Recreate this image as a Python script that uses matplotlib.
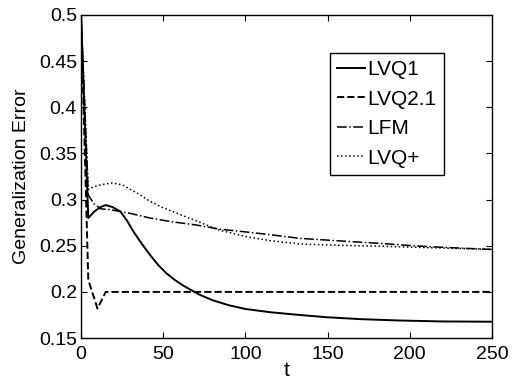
import matplotlib
matplotlib.use('Agg')
import matplotlib.pyplot as plt

plt.rcParams['font.family'] = ['Liberation Sans', 'DejaVu Sans']

# LVQ1 (solid)
t_lvq1 = [0, 4.4, 8, 12, 15, 19, 24, 28, 32, 37, 42, 47, 52, 57, 62, 67, 72, 80, 90, 100, 115, 133, 150, 170, 194, 220, 250]
e_lvq1 = [0.5, 0.280, 0.287, 0.292, 0.294, 0.292, 0.287, 0.277, 0.265, 0.252, 0.240, 0.229, 0.220, 0.213, 0.207, 0.202, 0.197, 0.191, 0.1855, 0.1815, 0.178, 0.175, 0.1725, 0.1705, 0.169, 0.168, 0.1677]

# LVQ2.1 (dashed)
t_lvq21 = [0, 4.4, 10, 15, 250]
e_lvq21 = [0.5, 0.213, 0.182, 0.2, 0.2]

# LFM (dash-dot)
t_lfm = [0, 4.4, 8, 12, 18, 30, 42, 55, 70, 84, 100, 115, 133, 155, 182, 206, 230, 250]
e_lfm = [0.5, 0.305, 0.295, 0.290, 0.289, 0.285, 0.280, 0.276, 0.2725, 0.268, 0.265, 0.262, 0.258, 0.2555, 0.2525, 0.2495, 0.2475, 0.246]

# LVQ+ (dotted)
t_lvqp = [0, 4.4, 8, 12, 19, 25, 36, 42, 50, 60, 70, 84, 100, 115, 133, 155, 182, 210, 250]
e_lvqp = [0.5, 0.311, 0.314, 0.316, 0.318, 0.316, 0.305, 0.298, 0.291, 0.284, 0.277, 0.267, 0.260, 0.2555, 0.252, 0.2505, 0.2495, 0.248, 0.246]

fig = plt.figure(figsize=(5.13, 3.82), dpi=100)
ax = fig.add_axes([0.158, 0.115, 0.801, 0.846])

ax.plot(t_lvq1, e_lvq1, 'k-', lw=1.4, label='LVQ1')
ax.plot(t_lvq21, e_lvq21, 'k--', lw=1.4, label='LVQ2.1')
ax.plot(t_lfm, e_lfm, 'k-.', lw=1.1, label='LFM')
ax.plot(t_lvqp, e_lvqp, 'k:', lw=1.1, label='LVQ+')

ax.set_xlim(0, 250)
ax.set_ylim(0.15, 0.5)
ax.set_xticks([0, 50, 100, 150, 200, 250])
ax.set_yticks([0.15, 0.2, 0.25, 0.3, 0.35, 0.4, 0.45, 0.5])
ax.set_yticklabels(['0.15', '0.2', '0.25', '0.3', '0.35', '0.4', '0.45', '0.5'])
ax.tick_params(direction='in', top=True, right=True, labelsize=14, length=4)
ax.tick_params(axis='x', pad=6)
ax.tick_params(axis='y', pad=3)
for s in ax.spines.values():
    s.set_linewidth(1.0)

ax.set_xlabel('t', fontsize=15, labelpad=-2)
ax.set_ylabel('Generalization Error', fontsize=14, labelpad=6)

leg = ax.legend(loc='upper right', bbox_to_anchor=(0.883, 0.882), borderaxespad=0,
                fontsize=15, fancybox=False, framealpha=1, edgecolor='k',
                handlelength=1.35, handletextpad=0.1, labelspacing=0.5, borderpad=0.35)
leg.get_frame().set_linewidth(1.0)

fig.savefig('out.png', dpi=100)
